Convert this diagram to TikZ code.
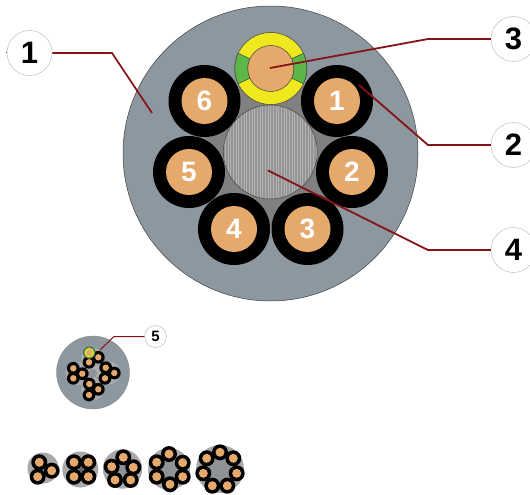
\documentclass[tikz,border=0pt]{standalone}
\usepackage{fontspec}
\setmainfont{Liberation Sans}
\definecolor{sheath}{HTML}{8D979F}
\definecolor{copper}{HTML}{E6A96C}
\definecolor{leader}{HTML}{861319}
\definecolor{egyellow}{HTML}{F0E81E}
\definecolor{eggreen}{HTML}{5CB846}
\definecolor{filler}{HTML}{A9A9A9}
\definecolor{smallcore}{HTML}{8F9396}
\pgfdeclareradialshading{fillershade}{\pgfpoint{0bp}{0bp}}{color(0bp)=(black!50); color(32bp)=(black!50); color(40bp)=(black!32); color(50bp)=(sheath)}
\tikzset{
  edge line/.style={draw=black!75,line width=0.5pt},
  cablebody/.style={fill=black},
  coppercore/.style={fill=copper},
  numlabel/.style={text=white,font=\bfseries\fontsize{28}{28}\selectfont,inner sep=0pt},
  calloutbig/.style={circle,draw=black!25,fill=white,line width=0.5pt,minimum size=45pt,inner sep=0pt,font=\bfseries\fontsize{31}{31}\selectfont},
  calloutsmall/.style={circle,draw=black!25,fill=white,line width=0.5pt,minimum size=22pt,inner sep=0pt,font=\bfseries\fontsize{15}{15}\selectfont},
  leaderline/.style={draw=leader,line width=1.8pt,line join=miter},
  leaderthin/.style={draw=leader,line width=1pt}
}
\newcommand{\cablecirc}[4]{%
  \fill[cablebody] (#1,#2) circle (#3);}
\newcommand{\coppercirc}[3]{%
  \fill[coppercore] (#1,#2) circle (#3);}
\begin{document}
\begin{tikzpicture}[x=1pt,y=-1pt]
\useasboundingbox (0,0) rectangle (530,495);
% large section
\filldraw[fill=sheath,edge line] (270.5,153.5) circle (147.5);
\shade[shading=fillershade] (270.5,152) circle (74);
\foreach \cx/\cy in {204.5/101,337/101,189/172,352/172,234/229,307.5/229}{\cablecirc{\cx}{\cy}{36}{23}\coppercirc{\cx}{\cy}{23}}
% core
\begin{scope}
\clip (270.3,152) circle (47);
\fill[black!30] (222,104) rectangle (319,200);
\foreach \i in {0,...,60}{\draw[black!42,line width=0.8pt] ({223+\i*1.6},104) -- ({223+\i*1.6},200);}
\end{scope}
\draw[edge line] (270.3,152) circle (47);
% earth conductor
\begin{scope}[shift={(270.8,68.5)}]
\filldraw[fill=egyellow,edge line] (0,0) circle (36);
\filldraw[fill=eggreen,edge line] (155:36) arc (155:205:36) -- (205:23) arc (205:155:23) -- cycle;
\filldraw[fill=eggreen,edge line] (-25:36) arc (-25:25:36) -- (25:23) arc (25:-25:23) -- cycle;
\filldraw[fill=copper,edge line] (0,0) circle (23);
\end{scope}
% core numbers
\node[numlabel] (n6) at (204.5,101) {6};
\node[numlabel] (n1) at (337,101) {1};
\node[numlabel] (n5) at (189,172) {5};
\node[numlabel] (n2) at (352,172) {2};
\node[numlabel] (n4) at (234,229) {4};
\node[numlabel] (n3) at (307.5,229) {3};
% callouts
\node[calloutbig] (lab1) at (29.5,53) {1};
\node[calloutbig] (lab3) at (513.5,39) {3};
\node[calloutbig] (lab2) at (513.5,145) {2};
\node[calloutbig] (lab4) at (513.5,250) {4};
\coordinate (end1) at (152,113);
\coordinate (end3) at (270,68);
\coordinate (end2) at (359,85);
\coordinate (end4) at (268,170.5);
\coordinate (tick1) at (6,53);
\draw[leaderline] (lab1.east) -- (112,53) -- (end1);
\draw[leaderline] (lab3.west) -- (428,39) -- (end3);
\draw[leaderline] (lab2.west) -- (428,145) -- (end2);
\draw[leaderline] (lab4.west) -- (428,250) -- (end4);
\draw[draw=leader,line width=1pt] (lab1.west) -- (tick1);
% small section with triple groups
\filldraw[fill=sheath,draw=black!50,line width=0.3pt] (93,372.5) circle (36.5);
\fill[black!33] (92.8,373) circle (6);
\foreach \gx/\gy in {92.5/359,77/373.5,109/373,92.5/389}{\fill[black!33] (\gx,\gy) circle (11.5);}
\fill[smallcore] (92.7,373.3) circle (4.5);
\foreach \cx/\cy in {98.3/357.3,89/362.3,73.3/368.3,73.3/378.3,82.3/373.7,105.7/367.7,114.3/373,105/378.3,89.3/384,98.3/389.3,89/395}{\cablecirc{\cx}{\cy}{6.4}{3}}
\foreach \cx/\cy in {98.3/357.3,89/362.3,73.3/368.3,73.3/378.3,82.3/373.7,105.7/367.7,114.3/373,105/378.3,89.3/384,98.3/389.3,89/395}{\coppercirc{\cx}{\cy}{3.2}}
\fill[black!70] (89.3,352.7) circle (6.2);
\fill[eggreen] (89.3,352.7) circle (5.6);
\fill[egyellow] (89.3,352.7) circle (4.6);
\fill[copper] (89.3,352.7) circle (3.4);
\node[calloutsmall] (lab5) at (155.5,336.5) {5};
\coordinate (end5) at (100,350);
\draw[leaderthin] (lab5.west) -- (114,336.5) -- (end5);
% bottom row
\fill[filler] (43,468) circle (15.5);
\fill[filler] (80.3,469.5) circle (18);
\fill[filler] (122.5,469) circle (19.7);
\fill[filler] (169,469) circle (21);
\fill[filler] (220,469) circle (24);
\fill[black!60] (81,469.5) circle (2.5);
\fill[smallcore] (123,469.5) circle (6.5);
\fill[smallcore] (169.5,469.5) circle (9);
\fill[smallcore] (220,470) circle (12);
\foreach \cx/\cy in {39.3/462.3,51.7/470.7,37.7/476.7,
  74/462.3,88.3/462.3,74/476.7,88.3/476.7,
  123.3/457.3,133.3/467.3,130.7/480,115/480,111.7/466.7,
  169/454,182.7/462.7,182.7/476.7,170/484.3,156.7/476.7,156.7/462.3,
  220/452.3,233.3/458.3,236.7/473.3,227.3/485.7,212.3/485.7,203.3/473.3,206.7/458.3}{\cablecirc{\cx}{\cy}{8}{4.4}}
\foreach \cx/\cy in {39.3/462.3,51.7/470.7,37.7/476.7,
  74/462.3,88.3/462.3,74/476.7,88.3/476.7,
  123.3/457.3,133.3/467.3,130.7/480,115/480,111.7/466.7,
  169/454,182.7/462.7,182.7/476.7,170/484.3,156.7/476.7,156.7/462.3,
  220/452.3,233.3/458.3,236.7/473.3,227.3/485.7,212.3/485.7,203.3/473.3,206.7/458.3}{\coppercirc{\cx}{\cy}{4.5}}
\end{tikzpicture}
\end{document}
